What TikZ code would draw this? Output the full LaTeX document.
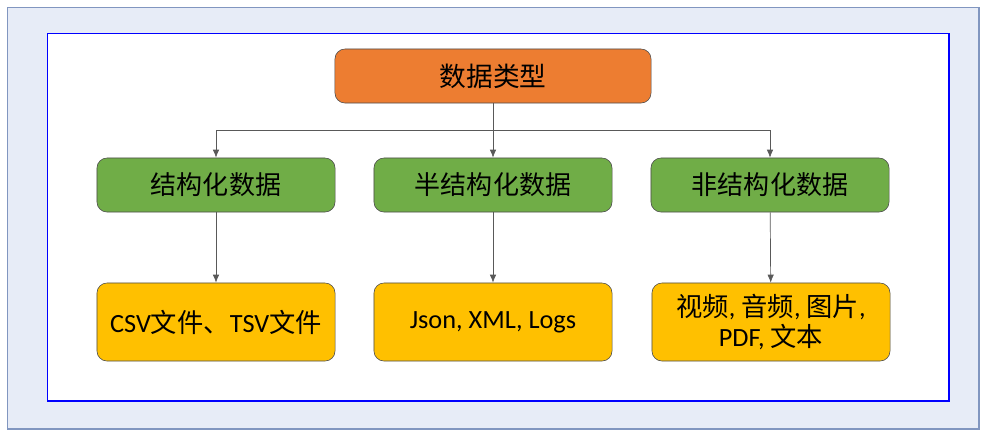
\documentclass[tikz,border=0pt]{standalone}
\usepackage{fontspec}
\setmainfont{Carlito}
\newfontfamily\cjk{Noto Sans CJK SC}
\usetikzlibrary{arrows.meta}
\definecolor{outerfill}{HTML}{E7ECF7}
\definecolor{outerline}{HTML}{8196C0}
\definecolor{orangebox}{HTML}{ED7D31}
\definecolor{greenbox}{HTML}{70AD47}
\definecolor{yellowbox}{HTML}{FFC000}
\tikzset{
  box/.style={draw=black!70, rounded corners=0.25cm, align=center, inner sep=2pt},
  topbox/.style={box, fill=orangebox, minimum width=7.9cm, minimum height=1.35cm, font=\fontsize{19}{23}\selectfont},
  kindbox/.style={box, fill=greenbox, minimum width=5.95cm, minimum height=1.35cm, font=\fontsize{18.5}{22}\selectfont},
  examplebox/.style={box, fill=yellowbox, minimum width=5.95cm, minimum height=1.95cm, font=\fontsize{18.7}{21.5}\selectfont},
  link/.style={draw=black!65, line width=0.5pt},
  arrow/.style={link, -{Latex[length=2mm,width=1.6mm]}}
}
\begin{document}
\begin{tikzpicture}[x=0.025cm, y=-0.025cm]
\useasboundingbox (0,0) rectangle (988,435);
\path[fill=outerfill, draw=outerline, line width=1pt] (7.5,7.5) rectangle (979,429);
\path[fill=white, draw=blue, line width=0.8pt] (47.5,33.5) rectangle (949,401);

\node[topbox] (type) at (493,76) {\cjk 数据类型};

\node[kindbox] (struct) at (216,185) {\cjk 结构化数据};
\node[kindbox] (semi) at (493,185) {\cjk 半结构化数据};
\node[kindbox] (unstruct) at (770,185) {\cjk 非结构化数据};

\node[examplebox] (csv) at (216,322) {CSV{\cjk 文件、}TSV{\cjk 文件}};
\node[examplebox] (json) at (493,322) {Json, XML, Logs};
\node[examplebox] (media) at (771,322) {{\cjk 视频}, {\cjk 音频}, {\cjk 图片},\\PDF, {\cjk 文本}};

\coordinate (split) at (493,130);
\coordinate (left) at (216,130);
\coordinate (right) at (770,130);

\path[link] (type) -- (split);
\path[link] (left) -- (right);
\path[arrow] (left) -- (struct);
\path[arrow] (split) -- (semi);
\path[arrow] (right) -- (unstruct);
\path[arrow] (struct) -- (csv);
\path[arrow] (semi) -- (json);
\path[arrow] (unstruct) -- (media);
\end{tikzpicture}
\end{document}
